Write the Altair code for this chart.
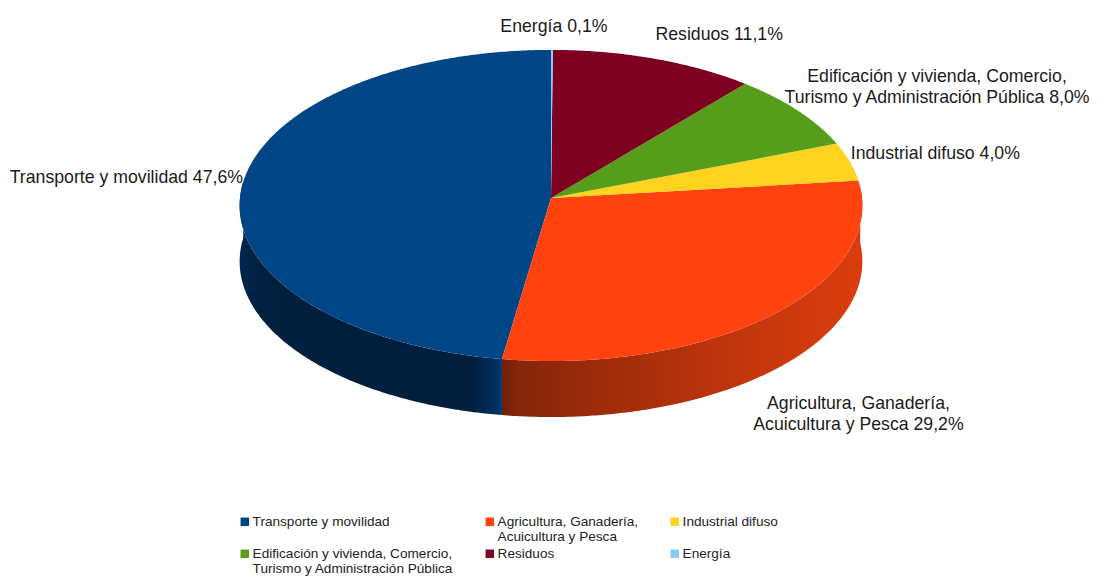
import math
import altair as alt

categories = [
    "Transporte y movilidad",
    "Agricultura, Ganadería, Acuicultura y Pesca",
    "Industrial difuso",
    "Edificación y vivienda, Comercio, Turismo y Administración Pública",
    "Residuos",
    "Energía",
]
shares = [47.6, 29.2, 4.0, 8.0, 11.1, 0.1]
colors = ["#004586", "#ff420e", "#ffd320", "#579d1c", "#7e0021", "#83caff"]
line_breaks = {"Ganadería, ": "Ganadería,\n", "Comercio, ": "Comercio,\n"}

# layout of the tilted disc, in chart pixels
CX, CY, RX, RY, K, DEPTH = 543.0, 190.0, 311.0, 155.2, -0.048, 56.0
FONT = "Liberation Sans"

label_place = [
    ("right", 1, -8),
    ("center", 84, 90),
    ("left", 1, -8),
    ("center", 139, -34),
    ("left", 1, -24),
    ("center", 2, -23),
]


def rim(phi_deg, drop=0.0):
    p = math.radians(phi_deg)
    X, Y = -math.sin(p), -math.cos(p)
    w = 1 + K * Y
    return [CX + RX * X / w, CY + RY * Y / w + drop]


def arc(a, b, drop=0.0, step=0.5):
    n = max(2, int(abs(b - a) / step) + 1)
    return [rim(a + (b - a) * i / (n - 1), drop) for i in range(n)]


def feature(name, ring):
    ring = ring + [ring[0]]
    return {
        "type": "Feature",
        "properties": {"name": name},
        "geometry": {"type": "Polygon", "coordinates": [ring]},
    }


edges = [0.0]
for s in shares:
    edges.append(edges[-1] + s * 3.6)

top = [
    feature(c, [[CX, CY]] + arc(edges[i], edges[i + 1]))
    for i, c in enumerate(categories)
]


def band(name, a, b):
    return feature(name, arc(a, b) + arc(b, a, DEPTH))


def gradient(stops):
    return {
        "gradient": "linear",
        "x1": 0,
        "x2": 1,
        "y1": 0,
        "y2": 0,
        "stops": [{"offset": o, "color": c} for o, c in stops],
    }


proj = dict(type="identity", scale=1, translate=[0, 0])

blue_side = alt.Chart(alt.Data(values=[band("side", 84, edges[1])])).mark_geoshape(
    strokeWidth=0,
    fill=gradient([
        (0, "#002750"), (0.08, "#00203f"), (0.88, "#001e3c"),
        (0.95, "#002a55"), (1, "#00386e"),
    ]),
).project(**proj)

orange_side = alt.Chart(alt.Data(values=[band("side", edges[1], 274)])).mark_geoshape(
    strokeWidth=0,
    fill=gradient([
        (0, "#6e1f06"), (0.04, "#85260a"), (0.3, "#a02c0a"),
        (0.6, "#bd340c"), (0.85, "#d23a0d"), (1, "#da3c0d"),
    ]),
).project(**proj)

faces = alt.Chart(alt.Data(values=top)).mark_geoshape(strokeWidth=0).encode(
    color=alt.Color(
        "properties.name:N",
        scale=alt.Scale(domain=categories, range=colors),
        sort=None,
        legend=alt.Legend(
            title=None,
            orient="none",
            legendX=230,
            legendY=507,
            direction="horizontal",
            columns=3,
            symbolType="square",
            symbolSize=72,
            symbolStrokeWidth=0,
            labelFont=FONT,
            labelFontSize=13.6,
            labelColor="#222222",
            labelLimit=400,
            labelOffset=1,
            columnPadding=29,
            rowPadding=2,
            labelExpr="slice(split(replace(replace(datum.label,'Ganadería, ','Ganadería,|'),'Comercio, ','Comercio,|') + '| ','|'),0,2)",
        ),
    )
).project(**proj)


def pct(v):
    return f"{v:.1f}".replace(".", ",") + "%"


rows = {"left": [], "center": [], "right": []}
for i, c in enumerate(categories):
    text = c
    for old, new in line_breaks.items():
        text = text.replace(old, new)
    mid = (edges[i] + edges[i + 1]) / 2
    x, y = rim(mid)
    align, dx, dy = label_place[i]
    rows[align].append({"x": x + dx, "y": y + dy, "label": text + " " + pct(shares[i])})

text_layers = [
    alt.Chart(alt.Data(values=r)).mark_text(
        font=FONT, fontSize=17.7, align=a, baseline="middle", color="#1a1a1a",
        lineBreak="\n", lineHeight=21,
    ).encode(longitude="x:Q", latitude="y:Q", text="label:N").project(**proj)
    for a, r in rows.items()
]

chart = alt.layer(blue_side, orange_side, faces, *text_layers).properties(
    width=1084,
    height=569,
    padding=0,
    autosize=alt.AutoSizeParams(type="none"),
).configure_view(stroke=None)

chart.save("out.html", embed_options={"renderer": "svg", "actions": False})
